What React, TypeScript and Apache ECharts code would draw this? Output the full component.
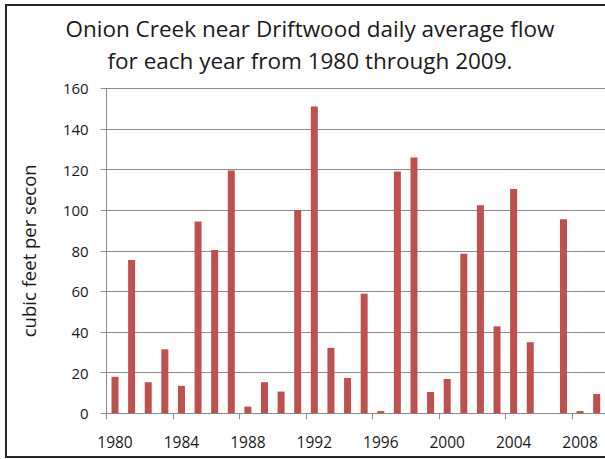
import React, { useEffect, useRef } from "react";
import * as echarts from "echarts";

const years = [
  "1980","1981","1982","1983","1984","1985","1986","1987","1988","1989",
  "1990","1991","1992","1993","1994","1995","1996","1997","1998","1999",
  "2000","2001","2002","2003","2004","2005","2006","2007","2008","2009",
];
const flow = [
  18, 75.5, 15.3, 31.5, 13.5, 94.4, 80.4, 119.5, 3.3, 15.3,
  10.7, 100.1, 151, 32.2, 17.4, 58.9, 1.1, 119, 125.9, 10.5,
  16.9, 78.6, 102.4, 42.8, 110.4, 35, 0, 95.5, 1.1, 9.5,
];
const titleLines = [
  "Onion Creek near Driftwood daily average flow",
  "for each year from 1980 through 2009.",
];
const yAxisName = "cubic feet per secon";

const FONT = "'Open Sans', 'Noto Sans', sans-serif";

export default function App() {
  const ref = useRef<HTMLDivElement>(null);
  useEffect(() => {
    document.documentElement.style.overflow = "hidden";
    document.body.style.margin = "0";
    document.body.style.overflow = "hidden";
    if (!ref.current) return;
    const chart = echarts.init(ref.current, null, { renderer: "svg" });
    chart.setOption({
      animation: false,
      backgroundColor: "#ffffff",
      textStyle: { fontFamily: FONT },
      graphic: [
        {
          type: "polyline",
          shape: { points: [[605, 5], [6, 5], [6, 457], [605, 457]] },
          style: { fill: "none", stroke: "#262626", lineWidth: 2 },
          z: 100,
        },
        {
          type: "text",
          x: 310,
          y: 28,
          style: {
            text: titleLines[0],
            fontSize: 22.5,
            fontFamily: FONT,
            fill: "#1a1a1a",
            textAlign: "center",
            textVerticalAlign: "middle",
          },
        },
        {
          type: "text",
          x: 310,
          y: 60,
          style: {
            text: titleLines[1],
            fontSize: 22.5,
            fontFamily: FONT,
            fill: "#1a1a1a",
            textAlign: "center",
            textVerticalAlign: "middle",
          },
        },
      ],
      grid: { left: 106.7, top: 88.3, width: 500, height: 325, containLabel: false },
      xAxis: {
        type: "category",
        data: years,
        boundaryGap: true,
        axisLine: { show: true, lineStyle: { color: "#8c8c8c", width: 1 } },
        axisTick: { show: true, interval: 3, length: 6, lineStyle: { color: "#8c8c8c" } },
        axisLabel: { interval: 3, margin: 21, fontSize: 15.5, color: "#1a1a1a", fontFamily: FONT },
      },
      yAxis: {
        type: "value",
        min: 0,
        max: 160,
        interval: 20,
        name: yAxisName,
        nameLocation: "middle",
        nameRotate: 90,
        nameGap: 69,
        nameTextStyle: { fontSize: 18.5, color: "#1a1a1a", fontFamily: FONT },
        axisLine: { show: true, lineStyle: { color: "#8c8c8c", width: 1 } },
        axisTick: { show: true, length: 6, lineStyle: { color: "#8c8c8c" } },
        axisLabel: { margin: 18, fontSize: 15, color: "#1a1a1a", fontFamily: FONT },
        splitLine: { show: true, lineStyle: { color: "#8c8c8c", width: 1 } },
      },
      series: [
        {
          type: "bar",
          data: flow,
          barWidth: 7,
          itemStyle: { color: "#C0504D" },
        },
      ],
    });
    return () => chart.dispose();
  }, []);
  return (
    <div
      ref={ref}
      style={{ position: "absolute", left: 0, top: 0, width: 605, height: 459 }}
    />
  );
}
